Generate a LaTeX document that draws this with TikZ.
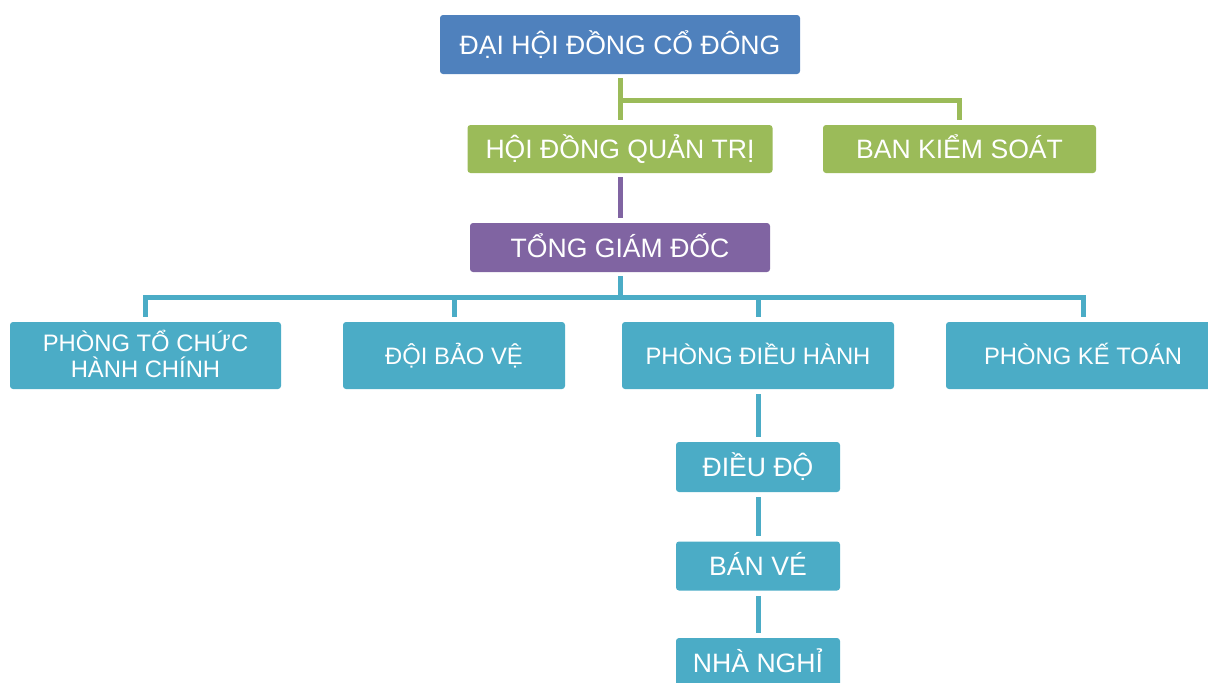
\documentclass[tikz,border=0pt]{standalone}
\usepackage{fontspec}
\setmainfont{Liberation Sans}
\definecolor{dhblue}{HTML}{4F81BD}
\definecolor{qtgreen}{HTML}{9BBB59}
\definecolor{gdpurple}{HTML}{8064A2}
\definecolor{pbteal}{HTML}{4BACC6}
\begin{document}
\begin{tikzpicture}[x=0.5pt, y=-0.5pt,
    box/.style={rectangle, rounded corners=1.5pt, text=white, inner sep=0pt,
      align=center, text height=9.5pt, text depth=0pt,
      font=\fontsize{13.3}{13}\selectfont},
    dept/.style={box, fill=pbteal, minimum height=33.5pt, text height=8.5pt,
      font=\fontsize{11.9}{13}\selectfont},
    gline/.style={draw=qtgreen, line width=2.5pt},
    pline/.style={draw=gdpurple, line width=2.5pt},
    bline/.style={draw=pbteal, line width=2.5pt}]
    \useasboundingbox (0,0) rectangle (1208,682);
    \clip (0,0) rectangle (1208,682);

    % 最上位
    \node[box, fill=dhblue, minimum width=180pt, minimum height=29.5pt] (dhcd) at (620,44.5) {ĐẠI HỘI ĐỒNG CỔ ĐÔNG};

    % 第二段
    \node[box, fill=qtgreen, minimum width=152.5pt, minimum height=24pt] (hdqt) at (620,149) {HỘI ĐỒNG QUẢN TRỊ};
    \node[box, fill=qtgreen, minimum width=136.5pt, minimum height=24pt] (bks) at (959.5,149) {BAN KIỂM SOÁT};

    % 第三段
    \node[box, fill=gdpurple, minimum width=150pt, minimum height=24.5pt] (tgd) at (620,247.5) {TỔNG GIÁM ĐỐC};

    % 部署
    \node[dept, minimum width=135.5pt, text height=21.5pt] (ptc) at (145.5,355.5) {PHÒNG TỔ CHỨC\\HÀNH CHÍNH};
    \node[dept, minimum width=111pt] (dbv) at (454,355.5) {ĐỘI BẢO VỆ};
    \node[dept, minimum width=136pt] (pdh) at (758,355.5) {PHÒNG ĐIỀU HÀNH};
    \node[dept, minimum width=137pt] (pkt) at (1083,355.5) {PHÒNG KẾ TOÁN};

    % 下部
    \node[box, fill=pbteal, minimum width=82pt, minimum height=25pt] (dd) at (758,467) {ĐIỀU ĐỘ};
    \node[box, fill=pbteal, minimum width=82pt, minimum height=24.5pt] (bv) at (758,566) {BÁN VÉ};
    \node[box, fill=pbteal, minimum width=82pt, minimum height=25pt] (nn) at (758,663) {NHÀ NGHỈ};

    % 線
    \draw[gline, shorten <=2pt, shorten >=2.5pt] (dhcd.south) -- (hdqt.north);
    \draw[gline, shorten <=2pt, shorten >=2.5pt] (dhcd.south) -- ++(0,26) -| (bks.north);
    \draw[pline, shorten <=2pt, shorten >=2.5pt] (hdqt.south) -- (tgd.north);
    \draw[bline, shorten <=2pt, shorten >=2.5pt] (tgd.south) -- ++(0,25) -| (ptc.north);
    \draw[bline, shorten <=2pt, shorten >=2.5pt] (tgd.south) -- ++(0,25) -| (dbv.north);
    \draw[bline, shorten <=2pt, shorten >=2.5pt] (tgd.south) -- ++(0,25) -| (pdh.north);
    \draw[bline, shorten <=2pt, shorten >=2.5pt] (tgd.south) -- ++(0,25) -| (pkt.north);
    \draw[bline, shorten <=2.5pt, shorten >=2.5pt] (pdh.south) -- (dd.north);
    \draw[bline, shorten <=2.5pt, shorten >=2.5pt] (dd.south) -- (bv.north);
    \draw[bline, shorten <=2.5pt, shorten >=2.5pt] (bv.south) -- (nn.north);
\end{tikzpicture}
\end{document}
